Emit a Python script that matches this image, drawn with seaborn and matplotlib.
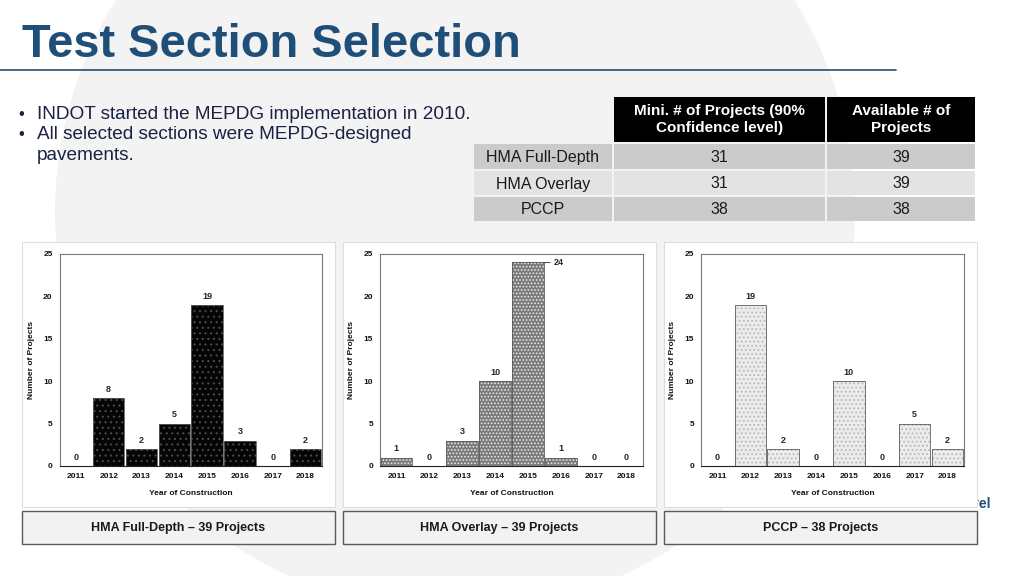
import numpy as np
import pandas as pd
import matplotlib
matplotlib.use('Agg')
import matplotlib.pyplot as plt
import matplotlib.patches as mpatches
import seaborn as sns

# ---------------- data ----------------
years = ['2011', '2012', '2013', '2014', '2015', '2016', '2017', '2018']
full_depth = [0, 8, 2, 5, 19, 3, 0, 2]
overlay = [1, 0, 3, 10, 24, 1, 0, 0]
pccp = [0, 19, 2, 0, 10, 0, 5, 2]
y_ticks = [0, 5, 10, 15, 20, 25]

panel_captions = ['HMA Full-Depth – 39 Projects', 'HMA Overlay – 39 Projects', 'PCCP – 38 Projects']

table_header = ['Mini. # of Projects (90%\nConfidence level)', 'Available # of\nProjects']
table_rows = ['HMA Full-Depth', 'HMA Overlay', 'PCCP']
table_min = [31, 31, 38]
table_avail = [39, 39, 38]

title = 'Test Section Selection'
bullets = ['INDOT started the MEPDG implementation in 2010.',
           'All selected sections were MEPDG-designed',
           'pavements.']

# ---------------- style ----------------
sns.set_style('white')
plt.rcParams['font.family'] = ['Liberation Sans', 'DejaVu Sans']
plt.rcParams['hatch.linewidth'] = 0.8

W, H = 1024, 576
fig = plt.figure(figsize=(W / 100, H / 100), dpi=100)
fig.patch.set_facecolor('white')

bg = fig.add_axes([0, 0, 1, 1], zorder=0)
bg.set_xlim(0, W)
bg.set_ylim(H, 0)
bg.axis('off')

# background decoration
bg.add_patch(mpatches.Circle((455, 212), 400, facecolor='#f3f3f3', edgecolor='none', zorder=0))
bg.text(925, 508, 'NextLevel', fontsize=10, color='#1F4E79', fontweight='bold',
        va='baseline', zorder=0.5)

# title and rule
title_color = '#1F4E79'
bg.text(22, 57, title, fontsize=33.8, fontweight='bold', color=title_color, va='baseline', zorder=3)
bg.plot([0, 896], [70, 70], color='#2b4b70', lw=1.2, zorder=3)

# bullets
text_color = '#1b2142'
bullet_y = [119, 139, 160]
for i, (line, y) in enumerate(zip(bullets, bullet_y)):
    if i < 2:
        bg.text(18, y, '•', fontsize=12, color=text_color, va='baseline', zorder=3)
    bg.text(37, y, line, fontsize=13.7, color=text_color, va='baseline', zorder=3)

# table
col_x = [(474, 612), (614, 825), (827, 975)]
head_y = (97, 142)
row_y = [(144, 169), (171, 195), (197, 221)]
row_colors = ['#cbcbcb', '#e3e3e3', '#cbcbcb']
for (x0, x1), htxt in zip(col_x[1:], table_header):
    bg.add_patch(mpatches.Rectangle((x0, head_y[0]), x1 - x0, head_y[1] - head_y[0],
                                    facecolor='black', edgecolor='none', zorder=2))
    bg.text((x0 + x1) / 2, (head_y[0] + head_y[1]) / 2, htxt, color='white', fontsize=11,
            fontweight='bold', ha='center', va='center', linespacing=1.25, zorder=3)
for r, (label, vmin, vav) in enumerate(zip(table_rows, table_min, table_avail)):
    y0, y1 = row_y[r]
    for (x0, x1), txt in zip(col_x, [label, str(vmin), str(vav)]):
        bg.add_patch(mpatches.Rectangle((x0, y0), x1 - x0, y1 - y0,
                                        facecolor=row_colors[r], edgecolor='none', zorder=2))
        bg.text((x0 + x1) / 2, (y0 + y1) / 2 + 1, txt, color='#1a1a1a', fontsize=11.5,
                ha='center', va='center', zorder=3)

# chart panels
panel_x = [(22, 335), (343, 656), (664, 977)]
panel_y = (242, 507)
cap_y = (511, 544)
axes_x = [(59.5, 322), (380, 643), (701, 964)]
axes_y = (254, 466)

series = [full_depth, overlay, pccp]
styles = [
    dict(face='#050505', hatchc='#4a4a4a', hatch='...'),
    dict(face='#7a7a7a', hatchc='#e8e8e8', hatch='.....'),
    dict(face='#ececec', hatchc='#b8b8b8', hatch='....'),
]

for k in range(3):
    px0, px1 = panel_x[k]
    bg.add_patch(mpatches.Rectangle((px0, panel_y[0]), px1 - px0, panel_y[1] - panel_y[0],
                                    facecolor='white', edgecolor='#dedede', lw=0.8, zorder=1))
    bg.add_patch(mpatches.Rectangle((px0, cap_y[0]), px1 - px0, cap_y[1] - cap_y[0],
                                    facecolor='#f2f2f2', edgecolor='#5a5a5a', lw=1.0, zorder=1))
    bg.text((px0 + px1) / 2, (cap_y[0] + cap_y[1]) / 2 + 1, panel_captions[k], fontsize=9,
            fontweight='bold', color='#1a1a1a', ha='center', va='center', zorder=3)

    ax0, ax1 = axes_x[k]
    ax = fig.add_axes([ax0 / W, 1 - axes_y[1] / H, (ax1 - ax0) / W, (axes_y[1] - axes_y[0]) / H],
                      zorder=2)
    vals = series[k]
    st = styles[k]
    df = pd.DataFrame({'year': years, 'count': vals})
    sns.barplot(data=df, x='year', y='count', color=st['face'], saturation=1, width=0.96,
                edgecolor=st['hatchc'], linewidth=0, hatch=st['hatch'], errorbar=None, ax=ax)
    ax.bar(range(len(vals)), vals, width=0.96, fill=False, edgecolor='#5c5c5c', lw=0.6)
    ax.set_xlim(-0.5, len(years) - 0.5)
    ax.set_ylim(y_ticks[0], y_ticks[-1])
    ax.set_yticks(y_ticks)
    ax.tick_params(axis='both', length=0, labelsize=6, pad=5, colors='#111111')
    for lab in ax.get_xticklabels() + ax.get_yticklabels():
        lab.set_fontweight('bold')
    ax.set_xlabel('Year of Construction', fontsize=6, fontweight='bold', labelpad=7, color='#111111')
    ax.set_ylabel('Number of Projects', fontsize=6, fontweight='bold', labelpad=6, color='#111111')
    for s in ax.spines.values():
        s.set_color('#7a7a7a')
        s.set_linewidth(0.8)
    ax.spines['bottom'].set_color('#222222')
    ymax = y_ticks[-1]
    for i, v in enumerate(vals):
        if v > 0.88 * ymax:
            ax.annotate(str(v), xy=(i + 0.48, v), xytext=(7, 0), textcoords='offset points',
                        ha='left', va='center', fontsize=6.5, fontweight='bold',
                        arrowprops=dict(arrowstyle='-', lw=0.6, color='#333333',
                                        shrinkA=0, shrinkB=0))
        else:
            ax.annotate(str(v), xy=(i, v), xytext=(0, 3), textcoords='offset points',
                        ha='center', va='bottom', fontsize=6.5, fontweight='bold')

fig.savefig('out.png', dpi=100, facecolor='white')
